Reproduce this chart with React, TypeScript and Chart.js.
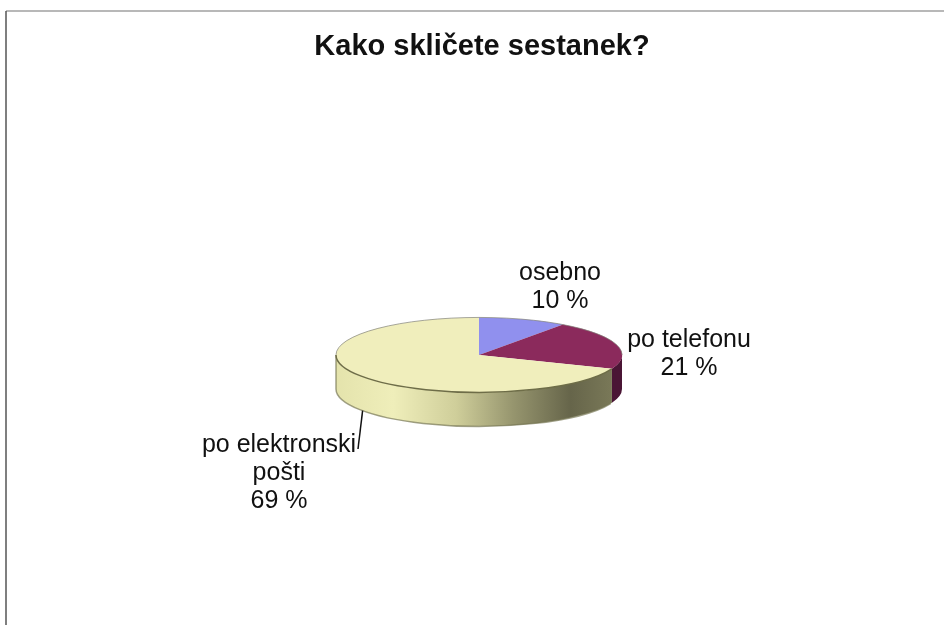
import React, { useEffect, useRef } from "react";
import { Chart, registerables } from "chart.js";

Chart.register(...registerables);

const chartTitle = "Kako skličete sestanek?";
const categories = ["osebno", "po telefonu", "po elektronski pošti"];
const shares = [10, 21, 69];
const topColors = ["#9090EE", "#8B2A5C", "#F0EEBC"];

// Wrapped label lines, centred on the given anchor.
const labelLines = [["osebno"], ["po telefonu"], ["po elektronski", "pošti"]];
const labelAnchors = [
  { x: 560, y: 273 },
  { x: 689, y: 340 },
  { x: 279, y: 445 },
];

const TILT = 0.262; // vertical squash of the pie disc
const DEPTH = 34; // height of the disc wall in pixels
const LINE_HEIGHT = 28;
const FONT_FAMILY = "'Liberation Sans', Arial, sans-serif";

const wallStops: [number, string][] = [
  [0, "#E4E3AC"],
  [0.2, "#EFEEBA"],
  [0.42, "#CFCE9A"],
  [0.62, "#96956E"],
  [0.82, "#66654A"],
  [1, "#7E7D5B"],
];
const telephoneWall = "#4A1535";

const pieGeometry = (chart: Chart) => {
  const arcs = chart.getDatasetMeta(0).data as any[];
  const first = arcs[0].getProps(["x", "y", "outerRadius"], true);
  return { arcs, cx: first.x, cy: first.y, r: first.outerRadius };
};

const discPlugin = {
  id: "tiltedDisc",
  afterLayout(chart: any) {
    // The title spans the full page width, centred a little right of the pie.
    chart.titleBlock.left = 0;
    chart.titleBlock.right = 964;
  },
  beforeDraw(chart: Chart) {
    const ctx = chart.ctx;
    ctx.save();
    ctx.strokeStyle = "#A0A0A0";
    ctx.lineWidth = 1.5;
    ctx.beginPath();
    ctx.moveTo(6, 11);
    ctx.lineTo(chart.width, 11);
    ctx.stroke();
    ctx.strokeStyle = "#555555";
    ctx.beginPath();
    ctx.moveTo(6, 11);
    ctx.lineTo(6, chart.height);
    ctx.stroke();
    ctx.restore();
  },
  beforeDatasetsDraw(chart: Chart) {
    const ctx = chart.ctx;
    const { arcs, cx, cy, r } = pieGeometry(chart);
    const ry = r * TILT;

    // Wall: the part of each slice's rim that faces the viewer.
    const gradient = ctx.createLinearGradient(cx - r, 0, cx + r, 0);
    wallStops.forEach(([at, color]) => gradient.addColorStop(at, color));
    arcs.forEach((arc, i) => {
      const { startAngle, endAngle } = arc.getProps(["startAngle", "endAngle"], true);
      const from = Math.max(startAngle, 0);
      const to = Math.min(endAngle, Math.PI);
      if (to <= from) return;
      ctx.beginPath();
      ctx.ellipse(cx, cy, r, ry, 0, from, to);
      ctx.ellipse(cx, cy + DEPTH, r, ry, 0, to, from, true);
      ctx.closePath();
      ctx.fillStyle = i === 1 ? telephoneWall : gradient;
      ctx.fill();
    });

    // Soft olive outline along the bottom of the wall.
    ctx.beginPath();
    ctx.ellipse(cx, cy + DEPTH, r, ry, 0, 0.4, Math.PI);
    ctx.lineTo(cx - r, cy);
    ctx.strokeStyle = "rgba(120,120,85,0.7)";
    ctx.lineWidth = 1.5;
    ctx.stroke();

    // Squash the flat pie into the top face of the disc.
    ctx.save();
    ctx.translate(cx, cy);
    ctx.scale(1, TILT);
    ctx.translate(-cx, -cy);
  },
  afterDatasetsDraw(chart: Chart) {
    const ctx = chart.ctx;
    ctx.restore();
    const { cx, cy, r } = pieGeometry(chart);
    const ry = r * TILT;

    // Dark rim between the top face and the wall, lighter at the back.
    ctx.save();
    ctx.lineWidth = 1.5;
    ctx.strokeStyle = "#6E6D48";
    ctx.beginPath();
    ctx.ellipse(cx, cy, r, ry, 0, 0.38, Math.PI);
    ctx.stroke();
    ctx.strokeStyle = "rgba(130,130,120,0.7)";
    ctx.lineWidth = 1;
    ctx.beginPath();
    ctx.ellipse(cx, cy, r, ry, 0, Math.PI, Math.PI * 2);
    ctx.stroke();

    // Slice labels.
    ctx.fillStyle = "#111111";
    ctx.font = `25px ${FONT_FAMILY}`;
    ctx.textAlign = "center";
    ctx.textBaseline = "middle";
    labelLines.forEach((lines, i) => {
      const anchor = labelAnchors[i];
      [...lines, `${shares[i]} %`].forEach((text, row) => {
        ctx.fillText(text, anchor.x, anchor.y + row * LINE_HEIGHT);
      });
    });

    // Leader from the largest slice to its label.
    const angle = Math.PI - 0.62;
    ctx.strokeStyle = "#111111";
    ctx.lineWidth = 1.5;
    ctx.beginPath();
    ctx.moveTo(cx + r * Math.cos(angle), cy + DEPTH + ry * Math.sin(angle));
    ctx.lineTo(358, 449);
    ctx.stroke();
    ctx.restore();
  },
};

export default function App() {
  const canvasRef = useRef<HTMLCanvasElement>(null);

  useEffect(() => {
    if (!canvasRef.current) return;
    const chart = new Chart(canvasRef.current, {
      type: "pie",
      data: {
        labels: categories,
        datasets: [
          {
            data: shares,
            backgroundColor: topColors,
            borderWidth: 0,
          },
        ],
      },
      options: {
        animation: false,
        responsive: false,
        layout: { padding: { left: 336, right: 322, top: 0, bottom: 127 } },
        plugins: {
          legend: { display: false },
          tooltip: { enabled: false },
          title: {
            display: true,
            text: chartTitle,
            color: "#111111",
            font: { family: FONT_FAMILY, size: 29, weight: "bold", lineHeight: 1.2 },
            padding: { top: 30, bottom: 147 },
          },
        },
      },
      plugins: [discPlugin],
    });
    return () => chart.destroy();
  }, []);

  return (
    <div style={{ position: "fixed", left: 0, top: 0, width: 944, height: 625, background: "#fff" }}>
      <canvas ref={canvasRef} width={944} height={625} style={{ display: "block" }} />
    </div>
  );
}
